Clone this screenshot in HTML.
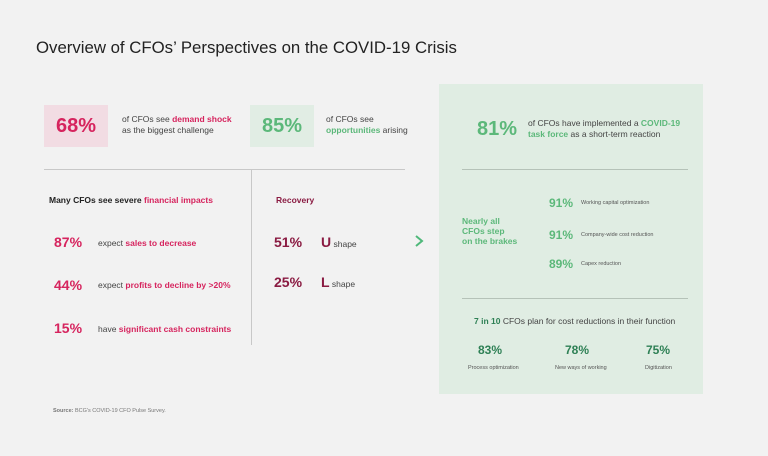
<!DOCTYPE html>
<html><head><meta charset="utf-8"><style>
body{margin:0;width:768px;height:456px;background:#f2f2f2;font-family:"Liberation Sans",sans-serif;position:relative;overflow:hidden;color:#333}
div,span{position:absolute;white-space:nowrap}
b{font-weight:bold}
.pk{color:#d6245e}.gr{color:#5cb87a}.dg{color:#2e8055}.mr{color:#8a1b42}
.big{font-size:20px;font-weight:bold}
.s{font-size:8.5px;line-height:11px;color:#444}
.m{font-size:14px;font-weight:bold}
.t{font-size:8.5px;color:#444}
.tiny{font-size:5.5px;color:#555}
</style></head><body>
<div style="left:36px;top:38px;font-size:16.8px;color:#222">Overview of CFOs’ Perspectives on the COVID-19 Crisis</div>

<div style="left:44px;top:105px;width:64px;height:42px;background:#f2dce3"></div>
<div class="big pk" style="left:56px;top:115px">68%</div>
<div class="s" style="left:122px;top:114px">of CFOs see <b class="pk">demand shock</b><br>as the biggest challenge</div>

<div style="left:250px;top:105px;width:64px;height:42px;background:#e1ede4"></div>
<div class="big gr" style="left:262px;top:115px">85%</div>
<div class="s" style="left:326px;top:114px">of CFOs see<br><b class="gr">opportunities</b> arising</div>

<div style="left:44px;top:169px;width:361px;height:1px;background:#c8c8c8"></div>
<div style="left:251px;top:169px;width:1px;height:176px;background:#c8c8c8"></div>

<div style="left:49px;top:195px;font-size:8.5px;font-weight:bold;color:#222">Many CFOs see severe <span class="pk" style="position:static">financial impacts</span></div>
<div class="m pk" style="left:54px;top:234px">87%</div>
<div class="t" style="left:98px;top:238px">expect <b class="pk">sales to decrease</b></div>
<div class="m pk" style="left:54px;top:277px">44%</div>
<div class="t" style="left:98px;top:280px">expect <b class="pk">profits to decline by &gt;20%</b></div>
<div class="m pk" style="left:54px;top:320px">15%</div>
<div class="t" style="left:98px;top:324px">have <b class="pk">significant cash constraints</b></div>

<div class="mr" style="left:276px;top:195px;font-size:8.5px;font-weight:bold">Recovery</div>
<div class="m mr" style="left:274px;top:234px">51%</div>
<div class="t" style="left:321px;top:234px"><b class="mr" style="font-size:14px">U</b> shape</div>
<div class="m mr" style="left:274px;top:274px">25%</div>
<div class="t" style="left:321px;top:274px"><b class="mr" style="font-size:14px">L</b> shape</div>

<svg style="position:absolute;left:414px;top:234px" width="10" height="14"><polyline points="2,2 8,7 2,12" fill="none" stroke="#4fb87a" stroke-width="2"/></svg>

<div style="left:439px;top:84px;width:264px;height:310px;background:#e0ede3"></div>
<div class="gr" style="left:477px;top:118px;font-size:20px;font-weight:bold">81%</div>
<div class="s" style="left:528px;top:118px">of CFOs have implemented a <b class="gr">COVID-19</b><br><b class="gr">task force</b> as a short-term reaction</div>
<div style="left:462px;top:169px;width:226px;height:1px;background:#b5c2b8"></div>
<div class="gr" style="left:462px;top:216px;font-size:8.5px;font-weight:bold;line-height:10px">Nearly all<br>CFOs step<br>on the brakes</div>
<div class="gr" style="left:549px;top:196px;font-size:12px;font-weight:bold">91%</div>
<div class="tiny" style="left:581px;top:200px">Working capital optimization</div>
<div class="gr" style="left:549px;top:228px;font-size:12px;font-weight:bold">91%</div>
<div class="tiny" style="left:581px;top:232px">Company-wide cost reduction</div>
<div class="gr" style="left:549px;top:257px;font-size:12px;font-weight:bold">89%</div>
<div class="tiny" style="left:581px;top:261px">Capex reduction</div>
<div style="left:462px;top:298px;width:226px;height:1px;background:#b5c2b8"></div>
<div class="t" style="left:474px;top:316px"><b class="dg">7 in 10</b> CFOs plan for cost reductions in their function</div>
<div class="dg" style="left:478px;top:343px;font-size:12px;font-weight:bold">83%</div>
<div class="tiny" style="left:468px;top:365px">Process optimization</div>
<div class="dg" style="left:565px;top:343px;font-size:12px;font-weight:bold">78%</div>
<div class="tiny" style="left:555px;top:365px">New ways of working</div>
<div class="dg" style="left:646px;top:343px;font-size:12px;font-weight:bold">75%</div>
<div class="tiny" style="left:645px;top:365px">Digitization</div>

<div style="left:53px;top:408px;font-size:5.5px;color:#777"><b>Source:</b> BCG's COVID-19 CFO Pulse Survey.</div>
</body></html>
